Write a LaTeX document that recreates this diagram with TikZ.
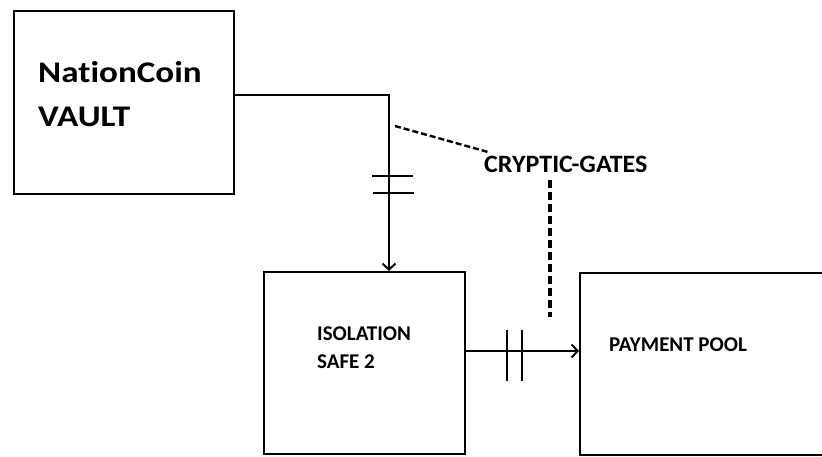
\documentclass[tikz,border=0pt]{standalone}
\usepackage{fontspec}
\setmainfont[Ligatures=NoCommon]{Carlito}
\usetikzlibrary{arrows.meta}
\begin{document}
\begin{tikzpicture}[x=1pt,y=-1pt,
  box/.style={draw,line width=2.3pt,inner sep=0pt,anchor=north west},
  conn/.style={line width=2pt},
  tick/.style={line width=2.2pt},
  arr/.style={conn,-{Straight Barb[length=6pt,width=13pt,line width=2pt]}},
  dashA/.style={line width=2.4pt,dash pattern=on 6pt off 3pt},
  dashB/.style={line width=3.4pt,dash pattern=on 8pt off 4pt},
  lbl/.style={font=\bfseries,inner sep=0pt,anchor=base west,align=left}]
\clip (0,0) rectangle (822,457);
\fill[white] (0,0) rectangle (822,457);
\node[box,minimum width=220pt,minimum height=183pt] (vault) at (13,10) {};
\node[box,minimum width=201pt,minimum height=182pt] (iso) at (263,271) {};
\node[box,minimum width=260pt,minimum height=182pt] (pay) at (579,272) {};
\node[lbl,font=\fontsize{30}{36}\bfseries\selectfont] (t1) at (38,83) {\scalebox{1.17}[1]{NationCoin}};
\node[lbl,font=\fontsize{30}{36}\bfseries\selectfont] (t2) at (38,127) {\scalebox{1.17}[1]{VAULT}};
\node[lbl,font=\fontsize{21}{25}\bfseries\selectfont] (t3) at (317,340) {ISOLATION};
\node[lbl,font=\fontsize{21}{25}\bfseries\selectfont] (t4) at (317,368) {SAFE 2};
\node[lbl,font=\fontsize{21}{25}\bfseries\selectfont] (t5) at (609,351) {PAYMENT POOL};
\node[lbl,font=\fontsize{25}{30}\bfseries\selectfont] (cg) at (484,173) {\scalebox{1.04}[1]{CRYPTIC-GATES}};
\coordinate (bend) at (389,95);
\draw[arr] (vault.east |- bend) -- (bend) -- (bend |- iso.north);
\draw[tick] (372,176) -- (413,176);
\draw[tick] (373,193) -- (414,193);
\draw[arr] (iso.east |- 0,351) -- (pay.west |- 0,351);
\draw[tick] (507,330) -- (507,381);
\draw[tick] (522,330) -- (522,381);
\coordinate (d1) at (395,126);
\coordinate (d2) at (488,152);
\draw[dashA] (d1) -- (d2);
\coordinate (d3) at (550,180);
\coordinate (d4) at (550,317);
\draw[dashB] (d3) -- (d4);
\end{tikzpicture}
\end{document}
